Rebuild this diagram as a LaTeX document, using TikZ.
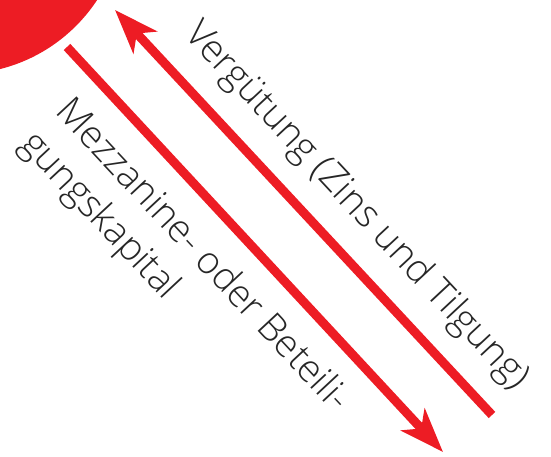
\documentclass[tikz,border=0pt]{standalone}
\usepackage{fontspec}
\setmainfont{Open Sans}[UprightFont={* Light}]
\usetikzlibrary{arrows.meta}
\definecolor{flowred}{RGB}{237,28,36}
\tikzset{
  flowln/.style={-{Stealth[length=44pt,width=32pt,inset=12pt]}, line width=9pt, flowred},
  flowlabel/.style={font=\fontsize{38}{48}\selectfont, text=black!85,
    inner sep=0pt, rotate=-47, align=left, anchor=base west},
}

\begin{document}
\begin{tikzpicture}[x=1pt, y=-1pt]
    \useasboundingbox (0,0) rectangle (551,457);
    \clip (0,0) rectangle (551,457);
    % partner (cut off at the corner)
    \fill[flowred] (-40,-90) circle (164);
    % capital flows down, payments flow back up
    \coordinate (capstart) at (67,47);
    \coordinate (capend) at (443,452);
    \coordinate (paystart) at (492,415);
    \coordinate (payend) at (115,10);
    \draw[flowln] (capstart) -- (capend);
    \draw[flowln] (paystart) -- (payend);
    \node[flowlabel] (pay) at (183,35) {Vergütung (Zins und Tilgung)};
    \node[flowlabel] (cap) at (19,145)
      {Mezzanine- oder Beteili-\\gungskapital};
  \end{tikzpicture}
\end{document}
